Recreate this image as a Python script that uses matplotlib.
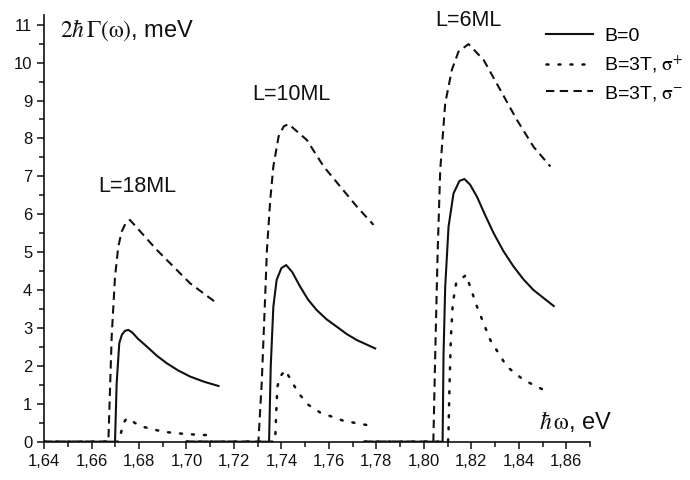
import matplotlib
matplotlib.use("Agg")
import matplotlib.pyplot as plt
from matplotlib.ticker import MultipleLocator

plt.rcParams['font.family'] = ['Liberation Sans', 'DejaVu Sans']
plt.rcParams['mathtext.fontset'] = 'stix'

# photon energy (eV) and damping 2*hbar*Gamma (meV)
# L = 18 ML
x18_b0 = [1.640, 1.6699, 1.6706, 1.6717, 1.6728, 1.6740, 1.6755, 1.6772, 1.6795, 1.6833, 1.6875, 1.6917, 1.6965, 1.7015, 1.7075, 1.7135]
y18_b0 = [0.0, 0.0, 1.54, 2.60, 2.82, 2.92, 2.95, 2.88, 2.72, 2.51, 2.27, 2.07, 1.88, 1.72, 1.58, 1.47]
x18_sp = [1.640, 1.6715, 1.6720, 1.6735, 1.6749, 1.6806, 1.6903, 1.7000, 1.7099]
y18_sp = [0.0, 0.0, 0.13, 0.50, 0.62, 0.41, 0.26, 0.20, 0.17]
x18_sm = [1.640, 1.6671, 1.6685, 1.6699, 1.6713, 1.6727, 1.6745, 1.6762, 1.6875, 1.7015, 1.7120]
y18_sm = [0.0, 0.0, 2.77, 4.35, 5.15, 5.54, 5.78, 5.85, 5.06, 4.18, 3.69]

# L = 10 ML
x10_b0 = [1.700, 1.7348, 1.7355, 1.7366, 1.7380, 1.7400, 1.7420, 1.7445, 1.7479, 1.7512, 1.7549, 1.7590, 1.7634, 1.7675, 1.7718, 1.7795]
y10_b0 = [0.0, 0.0, 1.98, 3.56, 4.27, 4.58, 4.66, 4.48, 4.09, 3.75, 3.47, 3.23, 3.03, 2.84, 2.68, 2.46]
x10_sp = [1.700, 1.7372, 1.7374, 1.7378, 1.7383, 1.7395, 1.7416, 1.7472, 1.7514, 1.7563, 1.7662, 1.7760]
y10_sp = [0.0, 0.0, 0.10, 0.75, 1.45, 1.72, 1.89, 1.28, 0.97, 0.77, 0.55, 0.44]
x10_sm = [1.700, 1.7303, 1.7317, 1.7331, 1.7339, 1.7353, 1.7366, 1.7388, 1.7410, 1.7430, 1.7507, 1.7578, 1.7648, 1.7718, 1.7788]
y10_sm = [0.0, 0.0, 1.54, 3.74, 5.06, 6.38, 7.26, 8.05, 8.32, 8.38, 7.96, 7.26, 6.73, 6.20, 5.72]

# L = 6 ML
x6_b0 = [1.775, 1.8079, 1.8083, 1.8090, 1.8104, 1.8125, 1.8150, 1.8171, 1.8195, 1.8224, 1.8258, 1.8294, 1.8335, 1.8378, 1.8420, 1.8462, 1.8547]
y6_b0 = [0.0, 0.0, 2.33, 4.09, 5.67, 6.55, 6.88, 6.93, 6.78, 6.46, 5.98, 5.50, 5.03, 4.62, 4.28, 4.00, 3.58]
x6_sp = [1.775, 1.8102, 1.8104, 1.8108, 1.8114, 1.8122, 1.8136, 1.8178, 1.8224, 1.8280, 1.8350, 1.8420, 1.8519]
y6_sp = [0.0, 0.0, 0.30, 1.45, 2.77, 3.65, 4.18, 4.40, 3.56, 2.68, 1.98, 1.63, 1.32]
x6_sm = [1.775, 1.8040, 1.8048, 1.8058, 1.8069, 1.8090, 1.8118, 1.8146, 1.8188, 1.8252, 1.8322, 1.8392, 1.8462, 1.8533]
y6_sm = [0.0, 0.0, 2.33, 4.97, 7.17, 8.93, 9.81, 10.29, 10.49, 10.07, 9.28, 8.49, 7.78, 7.26]

xticks = [1.64, 1.66, 1.68, 1.70, 1.72, 1.74, 1.76, 1.78, 1.80, 1.82, 1.84, 1.86]
xtick_labels = ["1,64", "1,66", "1,68", "1,70", "1,72", "1,74", "1,76", "1,78", "1,80", "1,82", "1,84", "1,86"]
series_labels = ["B=0", r"B=3T, $\mathrm{\sigma}^{+}$", r"B=3T, $\mathrm{\sigma}^{-}$"]
well_labels = ["L=18ML", "L=10ML", "L=6ML"]

fig = plt.figure(figsize=(6.9, 4.8), dpi=100)
ax = fig.add_axes([0.0638, 0.0798, 0.7913, 0.8892])

ink = '#111111'
solid = dict(color=ink, lw=1.5, ls='-')
dotted = dict(color=ink, lw=1.8, ls=(0, (0.8, 4.0)), dash_capstyle='round')
dashed = dict(color=ink, lw=1.5, ls=(0, (4.0, 2.6)))

h0, = ax.plot(x18_b0, y18_b0, **solid)
h1, = ax.plot(x18_sp, y18_sp, **dotted)
h2, = ax.plot(x18_sm, y18_sm, **dashed)
ax.plot(x10_b0, y10_b0, **solid)
ax.plot(x10_sp, y10_sp, **dotted)
ax.plot(x10_sm, y10_sm, **dashed)
ax.plot(x6_b0, y6_b0, **solid)
ax.plot(x6_sp, y6_sp, **dotted)
ax.plot(x6_sm, y6_sm, **dashed)

ax.set_xlim(1.64, 1.87)
ax.set_ylim(0, 11.26)
ax.set_xticks(xticks)
ax.set_xticklabels(xtick_labels)
ax.xaxis.set_minor_locator(MultipleLocator(0.01))
ax.yaxis.set_major_locator(MultipleLocator(1))
ax.yaxis.set_minor_locator(MultipleLocator(0.5))
ax.tick_params(which='major', direction='out', length=5, width=1.1, labelsize=12, colors=ink)
ax.tick_params(which='minor', direction='out', length=3.5, width=1.1, colors=ink)
for s in ['top', 'right']:
    ax.spines[s].set_visible(False)
for s in ['left', 'bottom']:
    ax.spines[s].set_linewidth(1.2)
    ax.spines[s].set_color(ink)

# axis titles sit inside the frame, like the original
fig.text(60 / 690, 1 - 30 / 480, r"$2\hbar\,\Gamma(\mathrm{\omega})$, meV", fontsize=17,
         ha='left', va='center', color=ink)
fig.text(612 / 690, 1 - 421 / 480, r"$\hbar\,\mathrm{\omega}$, eV", fontsize=17,
         ha='right', va='center', color=ink)

fig.text(137 / 690, 1 - 186 / 480, well_labels[0], fontsize=15.5, ha='center', va='center', color=ink)
fig.text(291 / 690, 1 - 94 / 480, well_labels[1], fontsize=15.5, ha='center', va='center', color=ink)
fig.text(468 / 690, 1 - 21 / 480, well_labels[2], fontsize=15.5, ha='center', va='center', color=ink)

ax.legend([h0, h1, h2], series_labels, loc='upper left', frameon=False,
          bbox_to_anchor=(546 / 690, 1 - 27 / 480), bbox_transform=fig.transFigure,
          fontsize=14, handlelength=2.4, handletextpad=0.6, labelspacing=0.45,
          borderpad=0, borderaxespad=0)

fig.savefig("out.png", dpi=100)
